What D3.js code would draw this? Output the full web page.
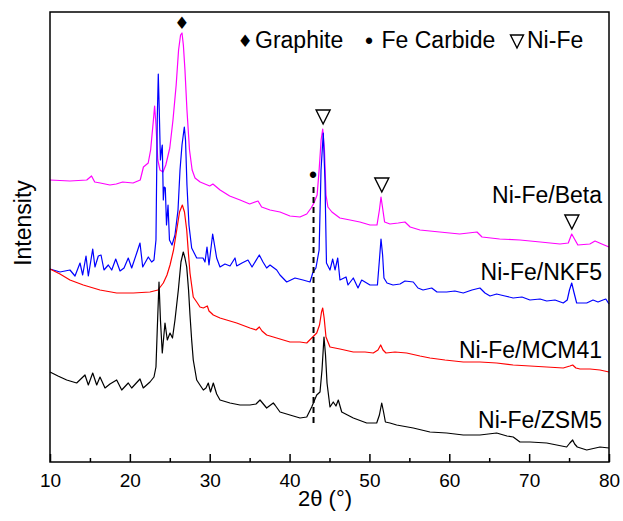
<!DOCTYPE html>
<html lang="en">
<head>
<meta charset="UTF-8">
<title>XRD patterns</title>
<script src="https://d3js.org/d3.v7.min.js"></script>
<style>
  body { margin: 0; background: #fff; }
  svg { display: block; font-family: "Liberation Sans", Arial, sans-serif; }
  .sym { font-family: "DejaVu Sans", sans-serif; }
</style>
</head>
<body>
<svg id="chart" width="623" height="521"></svg>
<script>
// patterns: [2theta (deg), intensity (a.u.)]
var beta = [[10.0,282],[12.5,281],[14.6,282],[15.2,286],[15.6,280],[16.3,279],[17.5,277],[18.3,278],[19.1,280],
  [20.4,279],[21.3,282],[21.7,295],[22.3,299],[22.6,312],[22.95,342],[23.1,356],[23.27,337],[23.5,302],[23.77,292],
  [24.15,290],[24.5,297],[25.0,314],[25.4,342],[25.8,377],[26.1,412],[26.35,427],[26.53,429],[26.7,417],[26.9,392],
  [27.15,352],[27.47,312],[27.8,292],[28.16,284],[28.8,280],[29.4,278],[30.0,276],[30.4,278],[31.3,272],[32.5,266],
  [33.8,262],[35.0,258],[36.05,261],[36.5,255],[37.55,252],[38.8,250],[40.05,246],[41.3,245],[42.15,248],[42.7,254],
  [43.05,259],[43.45,267],[43.7,292],[43.95,322],[44.15,333],[44.37,312],[44.56,267],[44.8,255],[45.3,250],[46.3,244],
  [47.57,242],[48.8,240],[50.07,237],[50.95,237],[51.25,252],[51.45,265],[51.65,254],[51.9,240],[52.57,238],[53.6,239],
  [54.45,240],[55.1,235],[56.33,232],[58.8,230],[61.3,228],[63.47,230],[64.1,225],[66.3,223],[68.85,222],[71.4,220],
  [73.86,218],[74.9,219],[75.33,228],[75.75,222],[76.1,217],[77.6,218],[78.25,221],[79.1,218],[80.0,215]];

var nkf5 = [[10.0,193],[11.25,190],[12.5,192],[13.13,186],[13.76,199],[14.09,187],[14.51,206],[14.8,186],[15.35,213],
  [15.63,195],[16.05,206],[16.39,207],[16.76,192],[17.3,197],[17.73,192],[18.23,203],[18.77,191],[19.27,194],[19.8,204],
  [20.23,194],[20.86,209],[21.27,219],[21.61,195],[22.31,205],[22.73,200],[23.02,202],[23.27,222],[23.43,342],[23.56,388],
  [23.68,352],[23.83,302],[23.96,312],[24.06,317],[24.19,262],[24.31,275],[24.44,274],[24.59,237],[24.78,257],[24.96,222],
  [25.28,217],[25.65,227],[26.03,252],[26.28,292],[26.53,317],[26.82,335],[26.97,322],[27.15,277],[27.4,237],[27.74,214],
  [28.37,204],[29.16,204],[29.41,200],[29.66,215],[29.91,197],[30.37,228],[30.87,204],[31.29,195],[31.91,198],[32.54,196],
  [33.17,204],[33.38,196],[34.04,199],[34.79,202],[35.3,195],[36.21,207],[36.67,200],[37.13,194],[37.55,197],[38.39,192],
  [38.8,187],[39.64,180],[40.68,184],[41.68,182],[42.56,180],[42.9,189],[43.3,194],[43.7,212],[43.94,292],[44.22,329],
  [44.43,282],[44.62,199],[45.06,192],[45.4,203],[45.69,192],[46.03,204],[46.31,182],[47.07,185],[47.32,177],[47.98,184],
  [48.57,174],[49.03,182],[50.07,177],[51.0,177],[51.25,202],[51.45,223],[51.65,207],[51.82,184],[52.2,179],[52.95,177],
  [53.83,178],[54.45,181],[55.49,180],[56.08,174],[56.71,172],[57.8,174],[58.46,170],[59.67,170],[60.7,171],[61.75,169],
  [62.84,172],[63.84,174],[64.47,169],[65.1,166],[65.93,168],[66.97,166],[68.0,164],[69.1,165],[70.1,162],[71.36,163],
  [72.2,161],[73.24,162],[74.27,159],[74.77,162],[75.05,172],[75.33,179],[75.6,170],[75.95,159],[77.21,159],[78.0,162],
  [78.62,160],[79.25,162],[79.6,163],[80.0,158]];

var mcm41 = [[10.0,193],[11.25,188],[12.5,182],[14.17,177],[16.26,172],[18.35,169],[20.43,169],[22.52,170],[23.52,172],
  [24.19,179],[24.65,187],[25.03,197],[25.47,212],[25.87,232],[26.22,250],[26.57,257],[26.84,250],[27.12,232],[27.35,207],
  [27.53,189],[27.94,165],[28.37,160],[28.78,155],[29.2,154],[29.7,156],[29.91,151],[30.45,147],[31.29,144],[32.12,142],
  [33.38,139],[35.04,134],[35.8,132],[36.21,135],[36.55,131],[37.13,127],[38.8,123],[40.05,120],[41.3,120],[42.15,119],
  [42.77,124],[43.4,129],[43.75,137],[44.0,150],[44.15,154],[44.33,144],[44.56,125],[45.06,115],[46.31,113],[47.98,110],
  [49.45,110],[50.48,109],[51.07,112],[51.41,117],[51.7,112],[52.07,109],[53.2,110],[54.66,109],[56.33,106],[57.58,104],
  [59.46,102],[61.75,100],[63.84,100],[65.93,99],[68.0,97],[70.11,96],[72.2,95],[74.27,94],[75.1,96],[75.45,97],
  [75.86,94],[76.37,93],[77.62,93],[78.87,92],[80.0,90]];

var zsm5 = [[10.0,90],[11.0,86],[12.09,82],[13.34,79],[14.38,87],[14.8,77],[15.35,89],[15.85,77],[16.26,85],[16.89,74],
  [17.51,78],[18.35,82],[18.98,72],[19.8,79],[20.23,74],[21.27,83],[21.68,74],[22.52,80],[23.02,85],[23.27,95],
  [23.43,132],[23.65,180],[23.83,142],[24.06,109],[24.4,139],[24.69,122],[25.03,129],[25.34,124],[25.65,142],[26.07,172],
  [26.4,200],[26.69,210],[26.9,204],[27.12,195],[27.35,172],[27.53,147],[27.74,122],[27.94,102],[28.37,82],[28.78,77],
  [29.2,72],[29.53,74],[29.82,79],[30.1,70],[30.45,79],[30.87,68],[31.29,62],[32.54,59],[33.79,57],[35.04,57],[35.8,58],
  [36.3,62],[37.13,54],[37.96,59],[38.17,57],[38.8,50],[40.05,47],[41.31,44],[42.15,45],[42.77,55],[43.4,67],[43.81,70],
  [44.06,92],[44.31,125],[44.5,107],[44.69,79],[45.06,55],[45.47,60],[45.81,56],[46.1,62],[46.53,50],[47.98,44],
  [49.66,39],[50.91,39],[51.25,47],[51.54,59],[51.77,50],[52.0,40],[52.57,39],[53.41,37],[55.49,34],[57.58,30],
  [59.67,29],[61.75,27],[63.84,27],[65.93,29],[67.22,26],[68.01,25],[68.85,20],[70.11,20],[72.2,19],[74.7,15],[75.1,19],
  [75.45,22],[75.7,18],[76.03,15],[77.21,12],[78.87,15],[80.0,14]];

var seriesNames = ["Ni-Fe/Beta", "Ni-Fe/NKF5", "Ni-Fe/MCM41", "Ni-Fe/ZSM5"];
var seriesData = [beta, nkf5, mcm41, zsm5];

var xTicks = [10, 20, 30, 40, 50, 60, 70, 80];
var xMinorTicks = [15, 25, 35, 45, 55, 65, 75];

// phase reflections marked in the figure
var graphitePeaks = [26.5];
var niFePeaks = [44.2, 51.55, 75.35];
var feCarbidePeak = 43.0;

var colors = ["#ff00ff", "#0000ff", "#ff0000", "#000000"];
var labelBase = [259, 182, 104, 34];

var plotLeft = 50, plotRight = 609, plotTop = 12, plotBottom = 462;

var svg = d3.select("#chart");

var x = d3.scaleLinear().domain([10, 80]).range([plotLeft, plotRight]);
var y = d3.scaleLinear().domain([0, 450]).range([plotBottom, plotTop]);

var line = d3.line()
    .x(function(d) { return x(d[0]); })
    .y(function(d) { return y(d[1]); });

// open down-pointing triangle, top edge at ty
function nabla(cx, ty, w) {
    var p = d3.path();
    p.moveTo(cx - w / 2, ty);
    p.lineTo(cx + w / 2, ty);
    p.lineTo(cx, ty + w);
    p.closePath();
    return p.toString();
}

// curves
svg.append("g").selectAll("path")
    .data(seriesData)
    .enter().append("path")
    .attr("d", line)
    .attr("fill", "none")
    .attr("stroke", function(d, i) { return colors[i]; })
    .attr("stroke-width", 1.2)
    .attr("stroke-linejoin", "round");

// series labels
svg.append("g").selectAll("text")
    .data(seriesNames)
    .enter().append("text")
    .attr("x", 602)
    .attr("y", function(d, i) { return y(labelBase[i]); })
    .attr("text-anchor", "end")
    .attr("font-size", 23)
    .text(function(d) { return d; });

// Fe carbide dashed marker
svg.append("line")
    .attr("x1", x(feCarbidePeak)).attr("x2", x(feCarbidePeak))
    .attr("y1", y(275)).attr("y2", y(37))
    .attr("stroke", "#000")
    .attr("stroke-width", 2)
    .attr("stroke-dasharray", "6,4");

svg.append("text")
    .attr("x", x(feCarbidePeak) - 0.5)
    .attr("y", y(286) + 7)
    .attr("text-anchor", "middle")
    .attr("font-size", 23)
    .text("\u2022");

function peakOf(series, t) {
    var near = series.filter(function(d) { return Math.abs(d[0] - t) < 0.4; });
    return d3.max(near, function(d) { return d[1]; });
}

// Ni-Fe markers over the Beta pattern
svg.append("g").selectAll("path")
    .data(niFePeaks)
    .enter().append("path")
    .attr("d", function(d) { return nabla(x(d), y(peakOf(beta, d)) - 19, 14); })
    .attr("fill", "none")
    .attr("stroke", "#000")
    .attr("stroke-width", 1.4)
    .attr("stroke-linejoin", "miter");

// graphite marker
svg.append("g").selectAll("text")
    .data(graphitePeaks)
    .enter().append("text")
    .attr("class", "sym")
    .attr("x", function(d) { return x(d); })
    .attr("y", function(d) { return y(peakOf(beta, d)) - 4; })
    .attr("text-anchor", "middle")
    .attr("font-size", 17)
    .text("\u2666");

// legend
var legend = svg.append("g");
legend.append("text").attr("class", "sym").attr("x", 245).attr("y", 47)
    .attr("text-anchor", "middle").attr("font-size", 17).text("\u2666");
legend.append("text").attr("x", 255).attr("y", 48).attr("font-size", 23).text("Graphite");
legend.append("text").attr("x", 369).attr("y", 49).attr("text-anchor", "middle")
    .attr("font-size", 23).text("\u2022");
legend.append("text").attr("x", 381.5).attr("y", 48).attr("font-size", 23).text("Fe Carbide");
legend.append("path").attr("d", nabla(517, 35, 13))
    .attr("fill", "none").attr("stroke", "#000").attr("stroke-width", 1.4);
legend.append("text").attr("x", 527).attr("y", 48).attr("font-size", 23).text("Ni-Fe");

// bottom axis, ticks pointing inward
var xAxis = svg.append("g")
    .attr("transform", "translate(0," + plotBottom + ")")
    .call(d3.axisBottom(x).tickValues(xTicks).tickSize(-8).tickSizeOuter(0).tickPadding(12)
        .tickFormat(d3.format("d")));
xAxis.select(".domain").remove();
xAxis.selectAll("line").attr("stroke-width", 1.5);
xAxis.selectAll("text").attr("font-size", 19).attr("font-family", "Liberation Sans, Arial, sans-serif")
    .attr("fill", "#000");

var xMinor = svg.append("g")
    .attr("transform", "translate(0," + plotBottom + ")")
    .call(d3.axisBottom(x).tickValues(xMinorTicks).tickSize(-4).tickSizeOuter(0).tickFormat(""));
xMinor.select(".domain").remove();
xMinor.selectAll("line").attr("stroke-width", 1.5);

// frame
svg.append("rect")
    .attr("x", plotLeft).attr("y", plotTop)
    .attr("width", plotRight - plotLeft).attr("height", plotBottom - plotTop)
    .attr("fill", "none")
    .attr("stroke", "#000")
    .attr("stroke-width", 1.5);

// axis titles
svg.append("text")
    .attr("x", 325).attr("y", 506)
    .attr("text-anchor", "middle")
    .attr("font-size", 22)
    .text("2\u03b8 (\u00b0)");

svg.append("text")
    .attr("transform", "translate(31,223) rotate(-90)")
    .attr("text-anchor", "middle")
    .attr("font-size", 23)
    .text("Intensity");
</script>
</body>
</html>
